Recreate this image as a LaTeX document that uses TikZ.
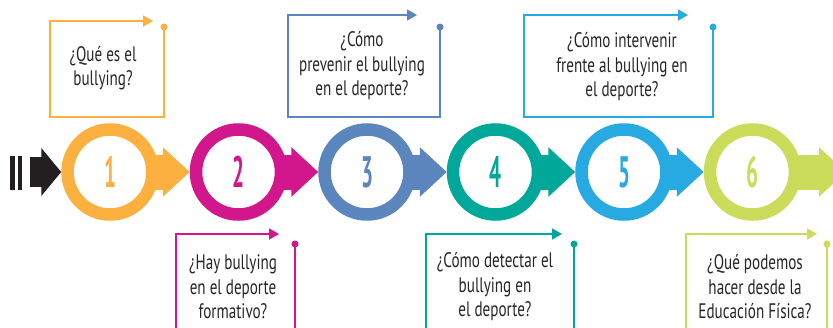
\documentclass[tikz,border=0pt]{standalone}
\usepackage{fontspec}
\setmainfont{PT Sans}[FakeStretch=0.72]
\newfontfamily\numfont{PT Sans}[FakeStretch=0.48]
\usetikzlibrary{arrows.meta,positioning}

\definecolor{stepA}{HTML}{FBB040}
\definecolor{stepB}{HTML}{D2168B}
\definecolor{stepC}{HTML}{5B86BD}
\definecolor{stepD}{HTML}{00A89A}
\definecolor{stepE}{HTML}{27AAE1}
\definecolor{stepF}{HTML}{CBDC5A}
\definecolor{ink}{HTML}{231F20}
\definecolor{textgray}{HTML}{262524}

\begin{document}
\begin{tikzpicture}[x=1pt,y=-1pt,node distance = 0pt and 31pt,
    ring/.style={circle,minimum size=85pt,inner sep=0pt,line width=12.5pt,fill=white,
                 font={\numfont\bfseries\fontsize{44}{44}\selectfont}},
    flow/.style={line width=35pt,shorten <=-8pt,-{Triangle[length=27pt,width=48pt]}},
    question/.style={align=center,inner sep=0pt,text=textgray,font={\fontsize{21}{24.5}\selectfont}},
    frame/.style={line width=1.4pt,-{Triangle[length=10pt,width=11pt]}},
   ]
    \clip (0,0) rectangle (833,327);

    \node (c1) [ring,draw=stepA,text=stepA] at (110,172) {1};
    \node (c2) [ring,draw=stepB,text=stepB,right=of c1] {2};
    \node (c3) [ring,draw=stepC,text=stepC,right=of c2] {3};
    \node (c4) [ring,draw=stepD,text=stepD,right=of c3] {4};
    \node (c5) [ring,draw=stepE,text=stepE,right=of c4] {5};
    \node (c6) [ring,draw=stepF,text=stepF,right=of c5] {6};

    \coordinate (start) at (30,172);
    \coordinate (tail) at (846,172);

    \fill[ink] (10,156) rectangle (14.5,190);
    \fill[ink] (17.5,156) rectangle (22,190);
    \draw[ink,line width=30pt,-{Triangle[length=20pt,width=47pt]}] (start) -- (c1);

    \draw[flow,stepA] (c1) -- (c2);
    \draw[flow,stepB] (c2) -- (c3);
    \draw[flow,stepC] (c3) -- (c4);
    \draw[flow,stepD] (c4) -- (c5);
    \draw[flow,stepE] (c5) -- (c6);
    \draw[flow,stepF] (c6) -- (tail);

    \node (q1) [question] at (103,68)  {¿Qué es el\\bullying?};
    \node (q2) [question] at (233,287) {¿Hay bullying\\en el deporte\\formativo?};
    \node (q3) [question] at (362,66)  {¿Cómo\\prevenir el bullying\\en el deporte?};
    \node (q4) [question] at (495,287) {¿Cómo detectar el\\bullying en\\el deporte?};
    \node (q5) [question] at (622,67)  {¿Cómo intervenir\\frente al bullying en\\el deporte?};
    \node (q6) [question] at (755,287) {¿Qué podemos\\hacer desde la\\Educación Física?};

    \coordinate (d1) at (164,27);  \coordinate (l1) at (50,117);  \coordinate (t1) at (153,21);
    \coordinate (d2) at (295,244); \coordinate (l2) at (176,335); \coordinate (t2) at (279,234);
    \coordinate (d3) at (440,27);  \coordinate (l3) at (288,117); \coordinate (t3) at (417,15);
    \coordinate (d4) at (574,244); \coordinate (l4) at (426,335); \coordinate (t4) at (562,234);
    \coordinate (d5) at (713,27);  \coordinate (l5) at (524,117); \coordinate (t5) at (688,15);
    \coordinate (d6) at (827,244); \coordinate (l6) at (686,335); \coordinate (t6) at (817,234);

    \draw[frame,stepA] (d1) |- (l1) |- (t1);
    \draw[frame,stepB] (d2) |- (l2) |- (t2);
    \draw[frame,stepC] (d3) |- (l3) |- (t3);
    \draw[frame,stepD] (d4) |- (l4) |- (t4);
    \draw[frame,stepE] (d5) |- (l5) |- (t5);
    \draw[frame,stepF] (d6) |- (l6) |- (t6);

    \fill[stepA] (d1) circle (3.5);
    \fill[stepB] (d2) circle (3.5);
    \fill[stepC] (d3) circle (3.5);
    \fill[stepD] (d4) circle (3.5);
    \fill[stepE] (d5) circle (3.5);
    \fill[stepF] (d6) circle (3.5);
  \end{tikzpicture}
\end{document}
